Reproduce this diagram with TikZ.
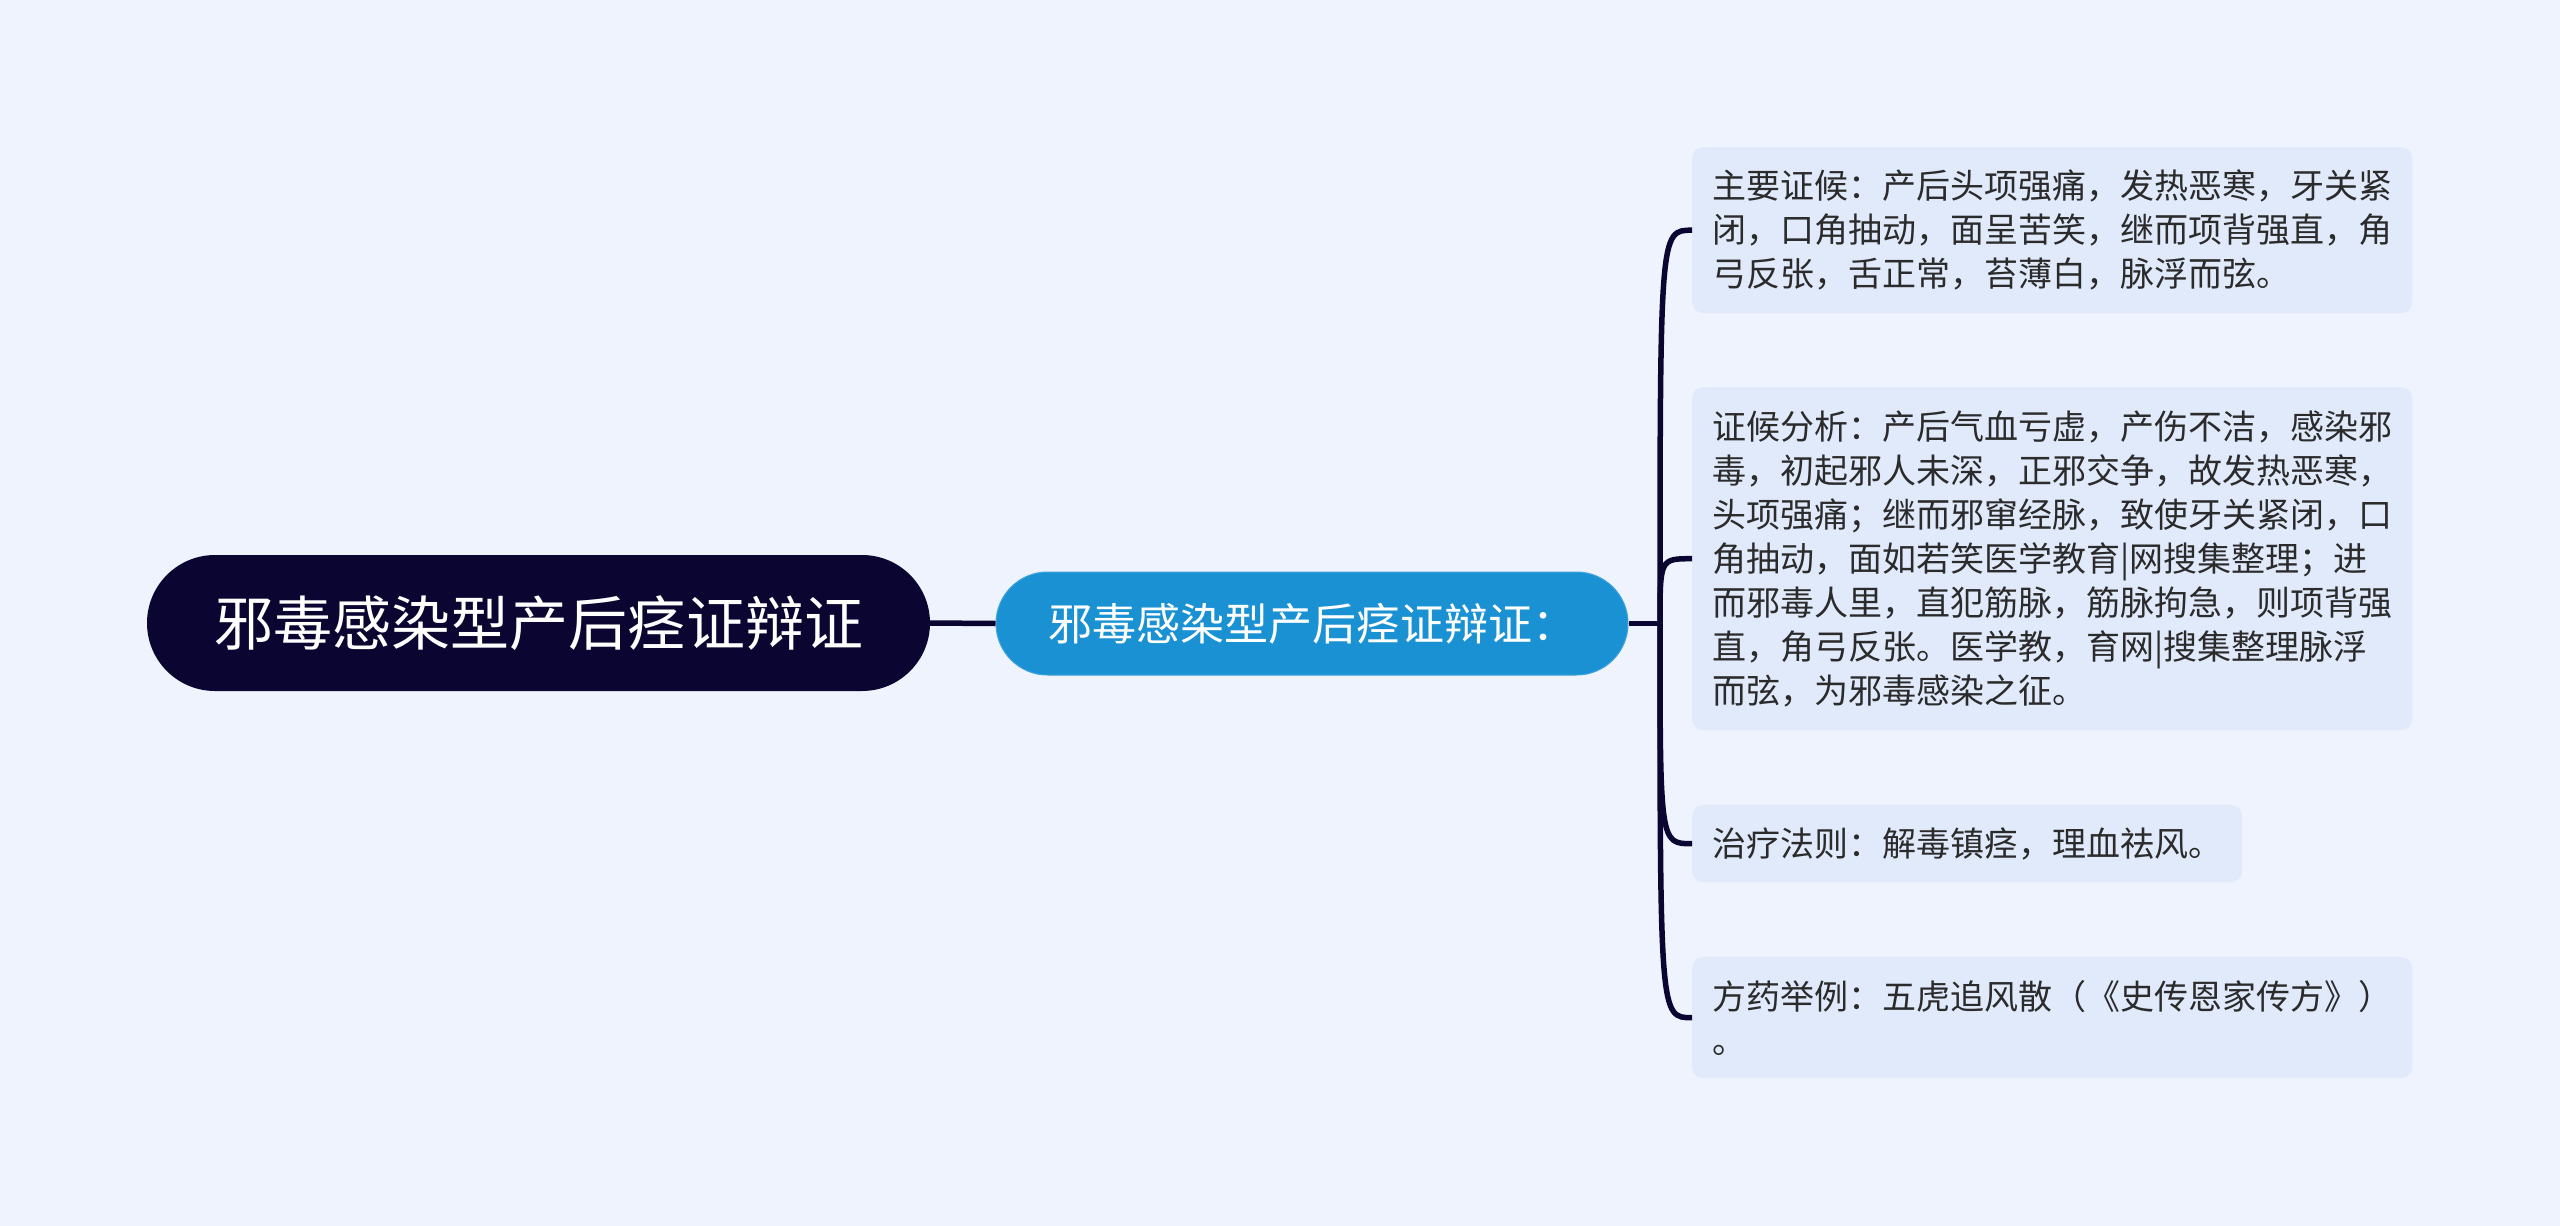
\documentclass[tikz,border=0pt]{standalone}
\usepackage{fontspec}
\newfontfamily\cjk{Noto Sans CJK SC}
\definecolor{bgc}{HTML}{EEF3FE}
\definecolor{rootc}{HTML}{0B0631}
\definecolor{midc}{HTML}{1A91D3}
\definecolor{midline}{HTML}{3FA2DA}
\definecolor{boxc}{HTML}{E1EAFB}
\definecolor{txtc}{HTML}{2B2B2B}
\definecolor{linec}{HTML}{0B0631}
\begin{document}
\begin{tikzpicture}[x=1pt,y=-1pt,
  rootnode/.style={rounded corners=68pt, fill=rootc, text=white, inner sep=0pt,
    minimum width=783pt, minimum height=136pt, font=\cjk\fontsize{59}{70}\selectfont},
  midnode/.style={rounded corners=51.5pt, fill=midc, draw=midline, line width=1pt, text=white, inner sep=0pt,
    minimum width=632pt, minimum height=103pt, font=\cjk\fontsize{44}{54}\selectfont},
  infobox/.style={rounded corners=11pt, fill=boxc, text=txtc, align=left, anchor=north west,
    inner xsep=20pt, inner ysep=0pt, font=\cjk\fontsize{34}{44}\selectfont},
  conn/.style={draw=linec, line width=5.5pt}]
\fill[bgc] (0,0) rectangle (2560,1226);
\useasboundingbox (0,0) rectangle (2560,1226);

\node[rootnode] (root) at (538.5,623) {邪毒感染型产后痉证辩证};
\node[midnode] (mid) at (1312,623.5) {邪毒感染型产后痉证辩证：};

\node[infobox, minimum width=720pt, minimum height=166pt] (b1) at (1692,147)
  {主要证候：产后头项强痛，发热恶寒，牙关紧\\闭，口角抽动，面呈苦笑，继而项背强直，角\\弓反张，舌正常，苔薄白，脉浮而弦。};
\node[infobox, minimum width=720pt, minimum height=343pt] (b2) at (1692,387)
  {证候分析：产后气血亏虚，产伤不洁，感染邪\\毒，初起邪人未深，正邪交争，故发热恶寒，\\头项强痛；继而邪窜经脉，致使牙关紧闭，口\\角抽动，面如若笑医学教育|网搜集整理；进\\而邪毒人里，直犯筋脉，筋脉拘急，则项背强\\直，角弓反张。医学教，育网|搜集整理脉浮\\而弦，为邪毒感染之征。};
\node[infobox, minimum width=548pt, minimum height=77pt] (b3) at (1692,805)
  {治疗法则：解毒镇痉，理血祛风。};
\node[infobox, minimum width=720pt, minimum height=121pt] (b4) at (1692,957)
  {方药举例：五虎追风散（《史传恩家传方》）\\。};

\coordinate (j) at (1660,623.5);
\draw[conn] (root.east) -- (mid.west);
\draw[conn] (mid.east) -- (j);
\draw[conn] (j) .. controls (j |- b1.west) .. (b1.west);
\draw[conn] (j) .. controls (j |- b2.west) .. (b2.west);
\draw[conn] (j) .. controls (j |- b3.west) .. (b3.west);
\draw[conn] (j) .. controls (j |- b4.west) .. (b4.west);
\end{tikzpicture}
\end{document}
